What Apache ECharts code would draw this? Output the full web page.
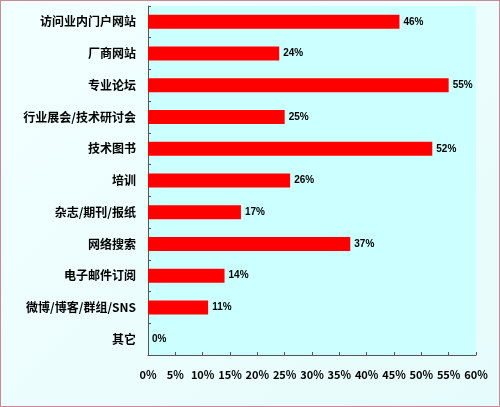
<!DOCTYPE html>
<html><head><meta charset="utf-8">
<script src="https://cdn.jsdelivr.net/npm/echarts@6/dist/echarts.min.js"></script>
<style>html,body{margin:0;padding:0}#c{width:500px;height:407px;box-sizing:border-box;border:1px solid #c98a96;background:linear-gradient(135deg,#f2ffff,#e6fbfb)}</style>
</head><body><div id="c"></div>
<script>
let categories = ['访问业内门户网站','厂商网站','专业论坛','行业展会/技术研讨会','技术图书','培训','杂志/期刊/报纸','网络搜索','电子邮件订阅','微博/博客/群组/SNS','其它'];
let values = [46, 24, 55, 25, 52, 26, 17, 37, 14, 11, 0];

let myChart = echarts.init(document.getElementById('c'));
let font = '"Noto Sans CJK SC", sans-serif';
let option = {
    grid: {left: 147, right: 23, top: 5, bottom: 51, backgroundColor: '#ccffff', show: true, borderWidth: 0},
    xAxis: {
        type: 'value', min: 0, max: 60, interval: 5,
        axisLine: {show: true, lineStyle: {color: '#555'}},
        axisTick: {show: true, inside: true, length: 3, lineStyle: {color: '#555'}},
        splitLine: {show: false},
        axisLabel: {formatter: '{value}%', color: '#000', fontWeight: 'bold', fontSize: 11, margin: 14, fontFamily: font}
    },
    yAxis: {
        type: 'category', inverse: true, data: categories,
        axisLine: {show: true, lineStyle: {color: '#555'}},
        axisTick: {show: true, inside: true, length: 3, lineStyle: {color: '#555'}},
        axisLabel: {color: '#000', fontWeight: 'bold', fontSize: 12, margin: 12, fontFamily: font}
    },
    series: [{
        type: 'bar', data: values, barWidth: 14,
        itemStyle: {color: '#ff0000'},
        label: {show: true, position: 'right', formatter: '{c}%', color: '#000', fontWeight: 'bold', fontSize: 10, distance: 4}
    }]
};
myChart.setOption(option);
</script></body></html>
